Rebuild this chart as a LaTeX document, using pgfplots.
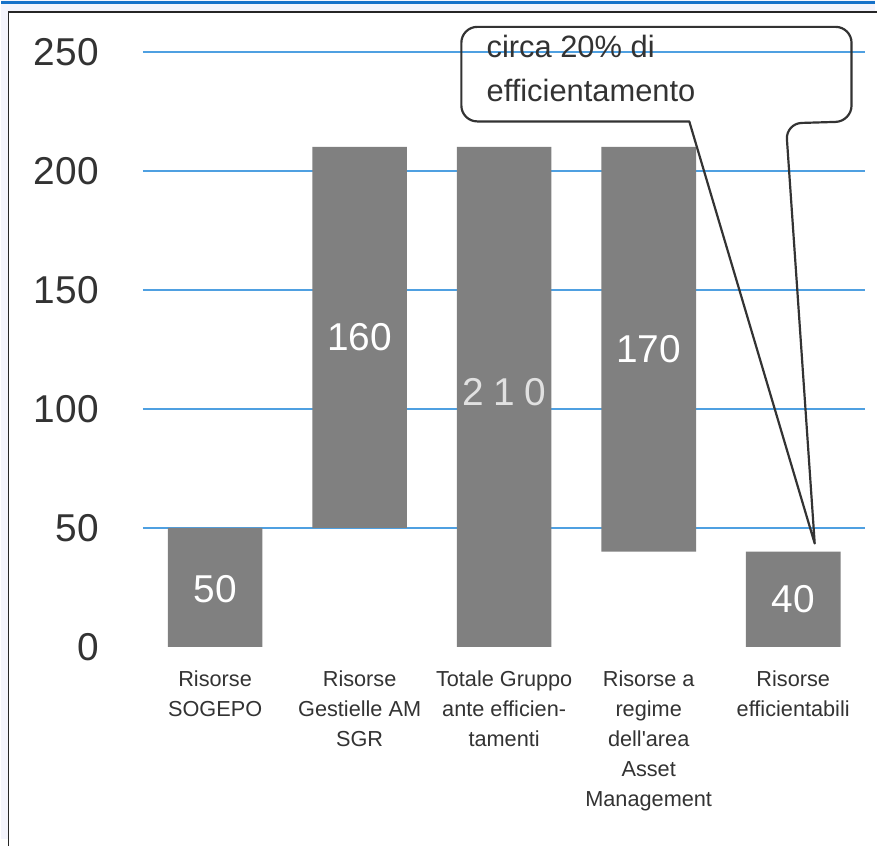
\documentclass[border=0pt]{standalone}
\usepackage{fontspec}
\setmainfont{Liberation Sans}[Ligatures=TeXOff]
\usepackage{pgfplots}
\pgfplotsset{compat=1.18}
\definecolor{gridblue}{RGB}{79,160,225}
\definecolor{bargray}{RGB}{128,128,128}
\definecolor{txt}{RGB}{51,51,51}
\definecolor{topblue}{RGB}{21,113,201}
\definecolor{bgl}{RGB}{244,244,252}
\definecolor{thin}{RGB}{225,225,225}
\begin{document}
\begin{tikzpicture}
\fill[bgl] (0,0) rectangle (439pt,421.5pt);
\begin{scope}[x=0.5pt,y=-0.5pt,shift={(0pt,421.5pt)}]
 \fill[white] (7,12) rectangle (880,850);
 \draw[black!85, line width=0.6pt] (7,850) -- (7,12) -- (880,12);
 \draw[topblue, line width=1.5pt] (0,2.5) -- (878,2.5);
\end{scope}
\path[use as bounding box] (0,0) rectangle (439pt,421.5pt);
\begin{axis}[
  at={(71pt,96.5pt)}, anchor=south west,
  scale only axis, width=363pt, height=299pt,
  xmin=-0.5, xmax=4.5, ymin=0, ymax=250,
  axis line style={draw=none},
  major tick length=0pt, tick style={draw=none},
  ytick={50,100,150,200,250},
  extra y ticks={0}, extra y tick style={grid=none},
  ymajorgrids, grid style={gridblue, line width=0.8pt},
  xtick={0,1,2,3,4},
  xticklabels={{Risorse\\SOGEPO},{Risorse\\Gestielle AM\\SGR},{Totale Gruppo\\ante efficien-\\tamenti},{Risorse a\\regime\\dell'area\\Asset\\Management},{Risorse\\efficientabili}},
  /pgf/number format/assume math mode=true,
  y tick label style={font=\fontsize{19.5}{20}\selectfont, text=txt, anchor=east, inner sep=0pt, xshift=-22pt},
  x tick label style={font=\fontsize{10.9}{15}\selectfont, text=txt, align=center, anchor=north, inner sep=0pt, yshift=-12pt},
  ybar stacked, bar width=0.655,
  clip=false,
]
\addplot[draw=none, fill=none] coordinates {(0,0) (1,50) (2,0) (3,40) (4,0)};
\addplot[fill=bargray, draw=none] coordinates {(0,50) (1,160) (2,210) (3,170) (4,40)};
\coordinate (L0) at (axis cs:0,24.5);
\coordinate (L1) at (axis cs:1,130);
\coordinate (L2) at (axis cs:2,107);
\coordinate (L3) at (axis cs:3,125);
\coordinate (L4) at (axis cs:4,20);
\end{axis}
\node[text=white, font=\fontsize{19.5}{20}\selectfont] at (L0) {50};
\node[text=white, font=\fontsize{19.5}{20}\selectfont] at (L1) {160};
\node[text=thin, font=\fontsize{19.5}{20}\selectfont\addfontfeatures{LetterSpace=25}] at (L2) {210};
\node[text=white, font=\fontsize{19.5}{20}\selectfont] at (L3) {170};
\node[text=white, font=\fontsize{19.5}{20}\selectfont] at (L4) {40};
\begin{scope}[x=0.5pt,y=-0.5pt,shift={(0pt,421.5pt)}]
 \draw[black!80, line width=1.1pt, line join=round] (817,546) -- (691,122) [rounded corners=8pt] -- (462,122) -- (462,27) -- (854,27) -- (854,122) -- (788,124) [sharp corners] -- cycle;
 \node[anchor=base west, inner sep=0pt, text=txt, font=\fontsize{15.5}{20}\selectfont] at (487,58) {circa 20\% di};
 \node[anchor=base west, inner sep=0pt, text=txt, font=\fontsize{15.5}{20}\selectfont] at (487,102) {efficientamento};
\end{scope}
\end{tikzpicture}
\end{document}
